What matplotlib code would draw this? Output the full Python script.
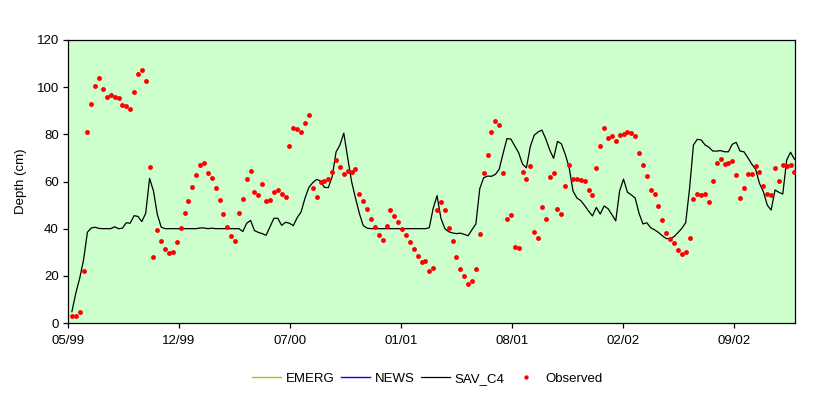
import matplotlib
matplotlib.use("Agg")
import matplotlib.pyplot as plt
import matplotlib.dates as mdates
import pandas as pd

plt.rcParams['font.family'] = ['Liberation Sans', 'DejaVu Sans']

# ---- data (weekly, starting 1999-06-05) ----
first_date = "1999-06-05"
axis_start = "1999-05-29"
axis_end = "2002-12-29"
tick_step_days = 200
n_ticks = 7

observed = [
    3.1, 3.1, 4.8, 22.2, 81.1, 93.0, 100.6, 104.0, 99.4, 96.0,
    96.8, 96.0, 95.5, 92.6, 92.2, 90.9, 98.1, 105.7, 107.4, 102.8,
    66.3, 28.1, 39.6, 34.9, 31.5, 29.8, 30.2, 34.5, 40.4, 46.8,
    51.9, 57.8, 62.9, 67.1, 68.0, 63.7, 61.6, 57.4, 52.3, 46.4,
    40.8, 37.0, 34.9, 46.8, 52.7, 61.2, 64.6, 55.7, 54.4, 59.1,
    51.9, 52.3, 55.7, 56.5, 54.8, 53.6, 75.2, 82.8, 82.4, 81.1,
    84.9, 88.3, 57.4, 53.6, 59.9, 60.4, 61.2, 64.2, 69.3, 66.3,
    63.3, 64.6, 64.2, 65.4, 54.8, 51.9, 48.5, 44.2, 40.8, 37.5,
    35.3, 41.3, 48.1, 45.5, 43.0, 40.0, 37.5, 34.5, 31.5, 28.6,
    26.0, 26.4, 22.2, 23.5, 48.1, 51.4, 48.1, 40.4, 34.9, 28.1,
    23.0, 20.1, 16.7, 18.0, 23.0, 37.9, 63.7, 71.4, 81.1, 85.8,
    84.1, 63.7, 44.2, 45.9, 32.4, 31.9, 64.2, 61.2, 66.7, 38.7,
    36.2, 49.3, 44.2, 62.0, 63.7, 48.5, 46.4, 58.2, 67.1, 61.2,
    61.2, 60.8, 60.4, 56.5, 54.4, 65.9, 75.2, 82.8, 78.6, 79.4,
    77.3, 79.9, 80.3, 81.1, 80.7, 79.4, 72.2, 67.1, 62.5, 56.5,
    54.8, 49.8, 43.8, 38.3, 35.8, 34.1, 31.1, 29.4, 30.2, 36.2,
    52.7, 54.8, 54.4, 54.8, 51.4, 60.4, 68.0, 69.7, 67.6, 68.0,
    68.8, 62.9, 53.1, 57.4, 63.3, 63.3, 66.7, 64.2, 58.2, 54.8,
    54.4, 65.9, 60.4, 67.1, 66.7, 67.1, 64.2,
]

sav_c4 = [
    4.8, 12.6, 18.9, 26.7, 38.5, 40.3, 40.6, 40.1, 40.0, 40.0,
    40.0, 40.8, 40.0, 40.2, 42.5, 42.3, 45.5, 45.2, 43.0, 46.5,
    61.3, 56.0, 46.0, 40.6, 40.0, 40.0, 40.0, 40.0, 40.0, 40.0,
    40.0, 40.0, 40.0, 40.3, 40.3, 40.0, 40.2, 40.0, 40.0, 40.0,
    40.0, 40.0, 40.0, 40.0, 38.8, 42.3, 43.5, 39.2, 38.4, 37.9,
    37.2, 40.8, 44.4, 44.4, 41.4, 42.7, 42.3, 41.3, 44.7, 47.1,
    52.9, 57.5, 59.5, 60.9, 60.2, 57.5, 57.4, 62.0, 72.5, 75.5,
    80.5, 70.0, 60.0, 53.0, 46.5, 41.3, 40.2, 40.0, 40.0, 40.0,
    40.0, 40.0, 40.0, 40.0, 40.0, 40.0, 40.0, 40.0, 40.0, 40.0,
    40.0, 40.0, 40.4, 48.6, 54.0, 44.4, 40.0, 38.7, 38.2, 37.9,
    38.1, 37.6, 37.0, 39.6, 42.0, 57.0, 61.6, 62.3, 62.2, 63.0,
    65.2, 71.9, 78.2, 78.0, 75.1, 72.2, 67.4, 65.8, 74.8, 79.6,
    81.0, 81.8, 78.0, 73.4, 69.8, 77.0, 76.0, 71.5, 66.0, 56.0,
    53.0, 51.9, 49.8, 47.5, 45.4, 49.0, 46.2, 49.6, 48.5, 46.0,
    43.3, 56.0, 61.0, 55.5, 54.3, 53.0, 46.5, 42.0, 42.5, 40.4,
    39.5, 38.4, 37.0, 35.8, 35.8, 36.6, 38.3, 40.1, 42.5, 57.0,
    75.5, 77.9, 77.6, 75.5, 74.5, 72.9, 72.9, 73.1, 72.6, 72.6,
    75.8, 76.6, 72.9, 72.6, 70.1, 67.4, 65.2, 59.2, 55.7, 50.0,
    47.9, 56.4, 55.4, 54.7, 69.1, 72.4, 69.4,
]

# EMERG and NEWS series are listed in the legend but show no data in the chart
emerg = []
news = []

series_names = ["EMERG", "NEWS", "SAV_C4", "Observed"]
series_colors = ["#99CC00", "#0000FF", "#000000", "#FF0000"]
y_ticks = [0, 20, 40, 60, 80, 100, 120]
y_label = "Depth (cm)"

# ---- figure ----
W, H = 831, 398
fig = plt.figure(figsize=(W / 100, H / 100), dpi=100)
ax = fig.add_axes([68 / W, 1 - 323 / H, (795 - 68) / W, (323 - 40) / H])
ax.set_facecolor("#CCFFCC")

dates = pd.date_range(first_date, periods=len(observed), freq="7D")

ax.plot(emerg, emerg, color=series_colors[0], lw=1.0, label=series_names[0])
ax.plot(news, news, color=series_colors[1], lw=1.0, label=series_names[1])
ax.plot(dates[:len(sav_c4)], sav_c4, color=series_colors[2], lw=0.9,
        label=series_names[2], zorder=3)
ax.plot(dates, observed, linestyle="none", marker="o", ms=3.5, mew=0,
        color=series_colors[3], label=series_names[3], zorder=4)

ax.set_xlim(pd.Timestamp(axis_start), pd.Timestamp(axis_end))
ax.set_ylim(0, 120)
ax.set_yticks(y_ticks)
xt = pd.date_range(axis_start, periods=n_ticks, freq=f"{tick_step_days}D")
ax.set_xticks(xt)
ax.xaxis.set_major_formatter(mdates.DateFormatter("%m/%y"))

for s in ax.spines.values():
    s.set_color("black")
    s.set_linewidth(0.9)
ax.tick_params(axis="both", direction="out", length=3.6, width=0.9,
               labelsize=9.5, colors="black", pad=3)
ax.tick_params(axis="x", pad=5)
ax.set_ylabel(y_label, fontsize=9.5, labelpad=7)

fig.legend(loc="center", bbox_to_anchor=(0.514, 0.048), ncol=4, frameon=False,
           fontsize=9.5, handlelength=2.2, handletextpad=0.35,
           columnspacing=0.5, markerscale=0.9)

fig.savefig("out.png", dpi=100, facecolor="white")
